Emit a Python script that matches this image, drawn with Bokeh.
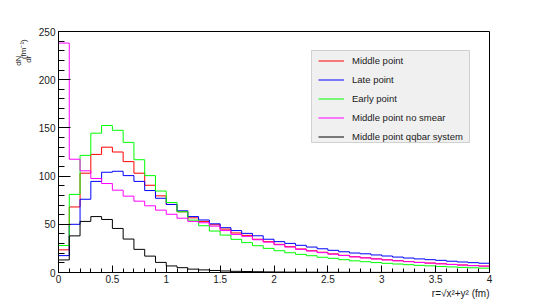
import math
import numpy as np
from bokeh.plotting import figure
from bokeh.models import (Range1d, FixedTicker, Legend, LegendItem, Title,
                          BoxAnnotation, LinearAxis)
from bokeh.embed import file_html
from bokeh.resources import INLINE

# ---------------- data ----------------
bin_width = 0.1
n_bins = 40

middle_point = [23.5, 68, 103, 122.5, 130, 125, 115, 103, 90.5, 79.5,
                70.6, 63, 56.7, 53, 49.5, 45, 41, 38.5, 34.5, 32,
                29.2, 26.8, 24.4, 22.6, 21, 19.3, 17.8, 16.4, 15.3, 14.2,
                13.2, 12.3, 11.4, 10.5, 9.8, 9.1, 8.4, 7.8, 7.2, 6.7]
late_point = [17.5, 50, 76, 94.5, 104, 105, 100.5, 94.5, 85, 77,
              70.6, 64, 58, 54.5, 50.5, 46.5, 43.5, 40.6, 38.1, 34.5,
              32, 30.2, 28.2, 26.4, 24.6, 23, 21.5, 20.2, 19.4, 18.2,
              17.1, 16, 15, 14.1, 13.3, 12.6, 11.7, 10.9, 10.2, 9.6]
early_point = [28, 81, 121.5, 144.5, 152.5, 147.5, 135, 117, 100.5, 84.5,
               72.6, 63, 54.3, 48.5, 43, 38.8, 34.4, 31, 27.8, 25,
               22.6, 20.5, 18.8, 17.4, 15.8, 14.7, 13.3, 12.1, 11.2, 10.3,
               9.5, 8.8, 8.1, 7.4, 6.9, 6.3, 5.8, 5.3, 4.9, 4.5]
no_smear = [238, 117.5, 105.5, 97.5, 92.3, 85.4, 79.2, 74, 69.2, 64.7,
            60.4, 56.3, 53, 51.6, 48.1, 43.5, 39.5, 37.5, 34, 31.5,
            28.8, 26.4, 24, 22.3, 20.6, 19, 17.6, 16.2, 15.1, 14,
            13, 12.1, 11.2, 10.4, 9.7, 9, 8.3, 7.7, 7.1, 6.6]
qqbar = [13, 38, 53, 58, 55, 45.7, 34.7, 24, 17, 10.5,
         6.8, 5, 3.5, 2.7, 2.1, 1.6, 1.2, 1.0, 0.8, 0.6,
         0.5, 0.4, 0.3, 0.3, 0.2, 0.2, 0.2, 0.1, 0.1, 0.1,
         0.1, 0.1, 0.1, 0.05, 0.05, 0.05, 0.05, 0.05, 0.05, 0.05]

series_names = ["Middle point", "Late point", "Early point",
                "Middle point no smear", "Middle point qqbar system"]
series_values = [middle_point, late_point, early_point, no_smear, qqbar]
series_colors = ["#ff0000", "#0000ff", "#00ff00", "#ff00ff", "#000000"]

x_ticks = [0, 0.5, 1, 1.5, 2, 2.5, 3, 3.5, 4]
x_tick_labels = ["0", "0.5", "1", "1.5", "2", "2.5", "3", "3.5", "4"]
y_ticks = [0, 50, 100, 150, 200, 250]
y_tick_labels = ["0", "50", "100", "150", "200", "250"]

x_title = "r=\u221ax\u00b2+y\u00b2 (fm)"
y_title_fraction = "dN\ndr"
y_title_unit = "(fm\u207b\u00b9)"

# ---------------- figure ----------------
FONT = "Liberation Sans"
TXT = "#1a1a1a"

p = figure(width=544, height=304, output_backend="svg", toolbar_location=None,
           x_range=Range1d(0, 4), y_range=Range1d(0, 250),
           min_border_left=54, min_border_right=55,
           min_border_top=31, min_border_bottom=32)
p.grid.visible = False
p.outline_line_color = "black"
p.outline_line_width = 1
p.background_fill_color = "white"
p.border_fill_color = "white"

edges = np.arange(n_bins + 1) * bin_width
renderers = []
for vals, col in zip(series_values, series_colors):
    yy = list(vals) + [vals[-1]]
    r = p.step(edges, yy, mode="after", line_color=col, line_width=1)
    renderers.append(r)

# axes
xa = p.xaxis[0]
xa.ticker = FixedTicker(ticks=x_ticks,
                        minor_ticks=list(np.round(np.arange(0, 4.01, 0.1), 2)))
xa.major_label_overrides = {t: l for t, l in zip(x_ticks, x_tick_labels)}
xa.major_tick_in = 7
xa.major_tick_out = 0
xa.minor_tick_in = 4
xa.minor_tick_out = 0
xa.major_label_standoff = 2
xa.major_label_text_font = FONT
xa.major_label_text_font_size = "10px"
xa.major_label_text_color = TXT
xa.axis_line_color = "black"

ya = p.yaxis[0]
ya.ticker = FixedTicker(ticks=y_ticks, minor_ticks=list(range(0, 251, 10)))
ya.major_label_overrides = {t: l for t, l in zip(y_ticks, y_tick_labels)}
ya.major_tick_in = 12
ya.major_tick_out = 0
ya.minor_tick_in = 6
ya.minor_tick_out = 0
ya.major_label_standoff = 3
ya.major_label_text_font = FONT
ya.major_label_text_font_size = "10px"
ya.major_label_text_color = TXT
ya.axis_line_color = "black"

# y title as tick labels of an extra, line-less axis (top-aligned like ROOT)
y_title_pos = [242, 225]
yt = LinearAxis(ticker=FixedTicker(ticks=y_title_pos, minor_ticks=[]),
                major_label_overrides={y_title_pos[0]: y_title_unit,
                                       y_title_pos[1]: y_title_fraction},
                major_label_orientation=math.pi / 2,
                major_label_standoff=6,
                major_label_text_font=FONT,
                major_label_text_font_size="8px",
                major_label_text_color=TXT,
                axis_line_color=None, major_tick_line_color=None,
                minor_tick_line_color=None)
p.add_layout(yt, "left")

# x title, right aligned under the axis
p.add_layout(Title(text=x_title, align="right", standoff=0,
                   text_font=FONT, text_font_size="10px",
                   text_font_style="normal", text_color=TXT), "below")

# legend box
box = BoxAnnotation(left=311, right=469, top=50, bottom=142,
                    left_units="canvas", right_units="canvas",
                    bottom_units="canvas", top_units="canvas",
                    fill_color="#f0f0f0", fill_alpha=1.0,
                    line_color="#777777", line_width=1, level="overlay")
p.add_layout(box)

items = [LegendItem(label=n, renderers=[r]) for n, r in zip(series_names, renderers)]
legend = Legend(items=items, location=(260, 127), padding=0, spacing=2,
                glyph_width=26, glyph_height=17, label_height=17,
                label_standoff=8, label_text_font=FONT,
                label_text_font_size="9.5px", label_text_color=TXT,
                background_fill_alpha=0, border_line_alpha=0,
                margin=0)
p.add_layout(legend, "center")

open("out.html", "w").write(file_html(p, INLINE))
